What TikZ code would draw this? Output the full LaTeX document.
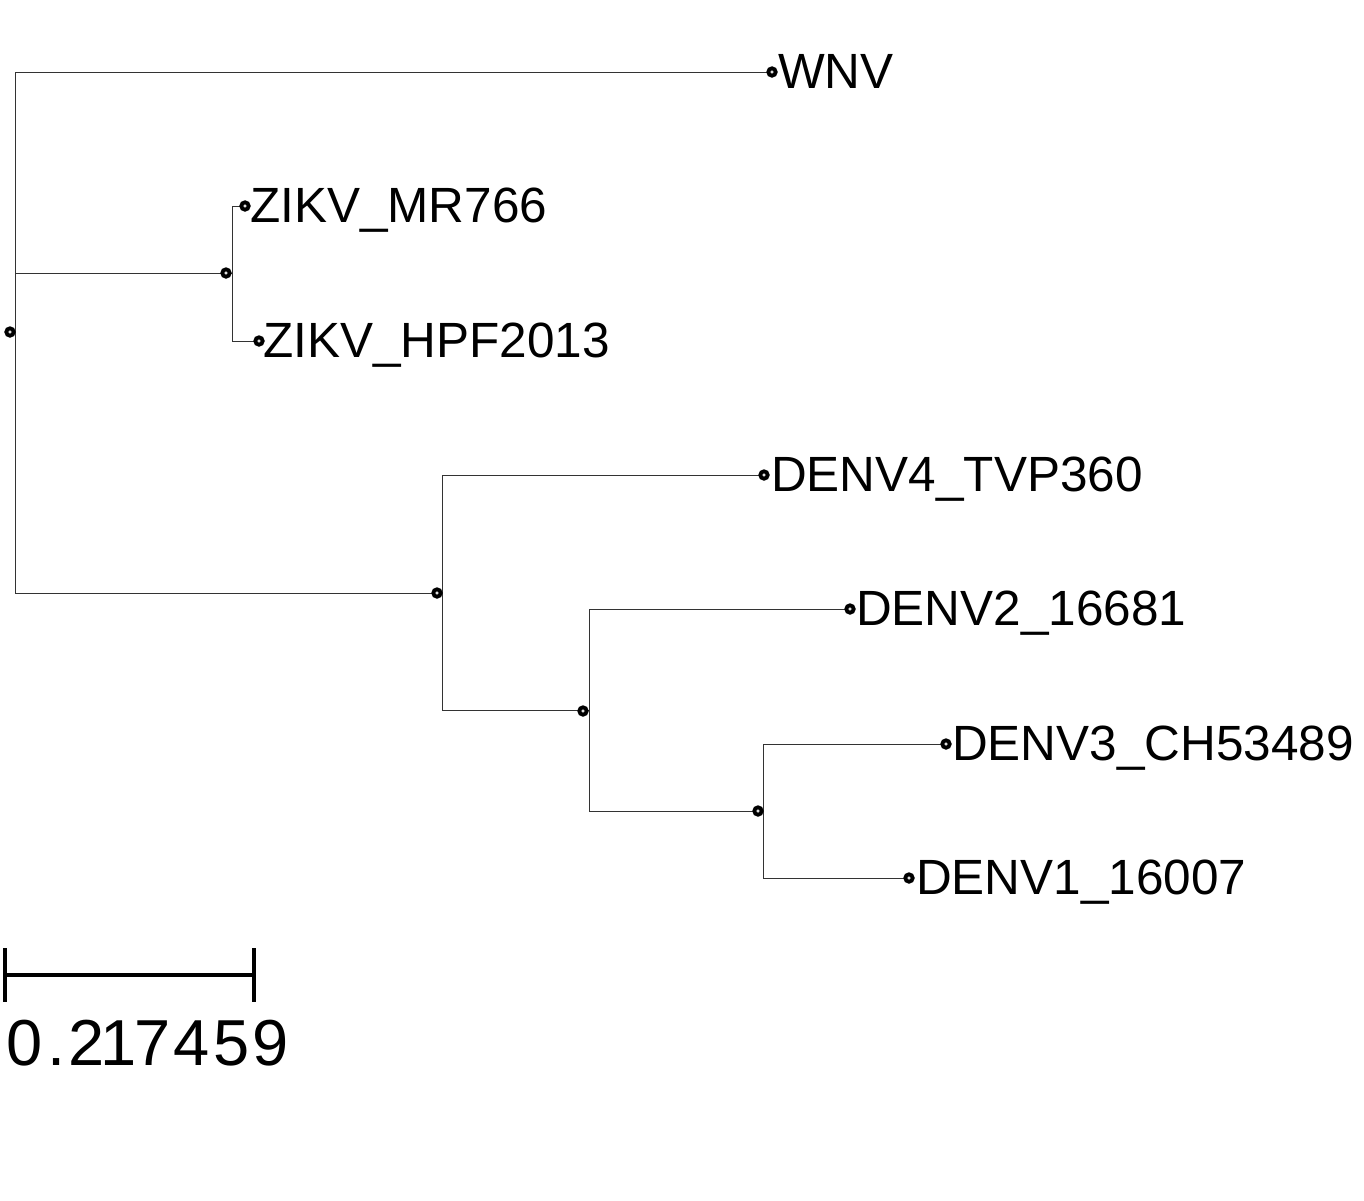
\documentclass[tikz,border=0pt]{standalone}
\usepackage{fontspec}
\setmainfont{Liberation Sans}
\newcommand\mchr[2]{\makebox[#1pt][c]{#2}}
\begin{document}
\begin{tikzpicture}[x=1pt,y=-1pt,
  branch/.style={draw=black!80,line width=0.9pt},
  dot/.style={circle,draw=black,line width=3.8pt,fill=gray!25,minimum size=7.4pt,inner sep=0pt},
  leaflabel/.style={anchor=base west,inner sep=0pt,font=\fontsize{49.5}{50}\selectfont},
  barline/.style={draw=black,line width=3.6pt}]
\useasboundingbox[fill=white] (0,0) rectangle (1364,1200);
% branching points
\coordinate (r) at (15,332);
\coordinate (z) at (232,273);
\coordinate (d) at (442,593);
\coordinate (d23) at (589,710);
\coordinate (d13) at (763,811);
% leaf dots (positions)
\coordinate (wnv) at (772,72);
\coordinate (mr) at (245,206);
\coordinate (hpf) at (259,341);
\coordinate (d4) at (764,475);
\coordinate (d2) at (850,609);
\coordinate (d3) at (946,744);
\coordinate (d1) at (909,878);
% branches
\draw[branch] (r) |- (wnv);
\draw[branch] (r) |- (z);
\draw[branch] (r) |- (d);
\draw[branch] (z) |- (mr);
\draw[branch] (z) |- (hpf);
\draw[branch] (d) |- (d4);
\draw[branch] (d) |- (d23);
\draw[branch] (d23) |- (d2);
\draw[branch] (d23) |- (d13);
\draw[branch] (d13) |- (d3);
\draw[branch] (d13) |- (d1);
% leaf dots
\foreach \n in {wnv,mr,hpf,d4,d2,d3,d1} {\node[dot] (\n dot) at (\n) {};}
% internal dots
\node[dot] (rdot) at (10,332) {};
\node[dot] (zdot) at (226,273) {};
\node[dot] (ddot) at (437,593) {};
\node[dot] (d23dot) at (583,711) {};
\node[dot] (d13dot) at (758,811) {};
% labels
\node[leaflabel] (lwnv) at (778,88) {WNV};
\node[leaflabel] (lmr) at (250,222) {ZIKV\_MR766};
\node[leaflabel] (lhpf) at (263,357) {ZIKV\_HPF2013};
\node[leaflabel] (ld4) at (771,491) {DENV4\_TVP360};
\node[leaflabel] (ld2) at (856,625) {DENV2\_16681};
\node[leaflabel] (ld3) at (952,760) {DENV3\_CH53489};
\node[leaflabel] (ld1) at (916,894) {DENV1\_16007};
% scale bar
\coordinate (sa) at (5,975);
\coordinate (sb) at (254,975);
\draw[barline] (sa) -- (sb);
\draw[barline] (5,948) -- (5,1002);
\draw[barline] (254,948) -- (254,1002);
\node[anchor=base west,inner sep=0pt,font=\fontsize{65}{68}\selectfont] (slabel) at (7,1065) {\mchr{33.75}{0}\mchr{31}{.}\mchr{30}{2}\mchr{32.5}{1}\mchr{37}{7}\mchr{40.75}{4}\mchr{39}{5}\mchr{38.5}{9}};
\end{tikzpicture}
\end{document}
